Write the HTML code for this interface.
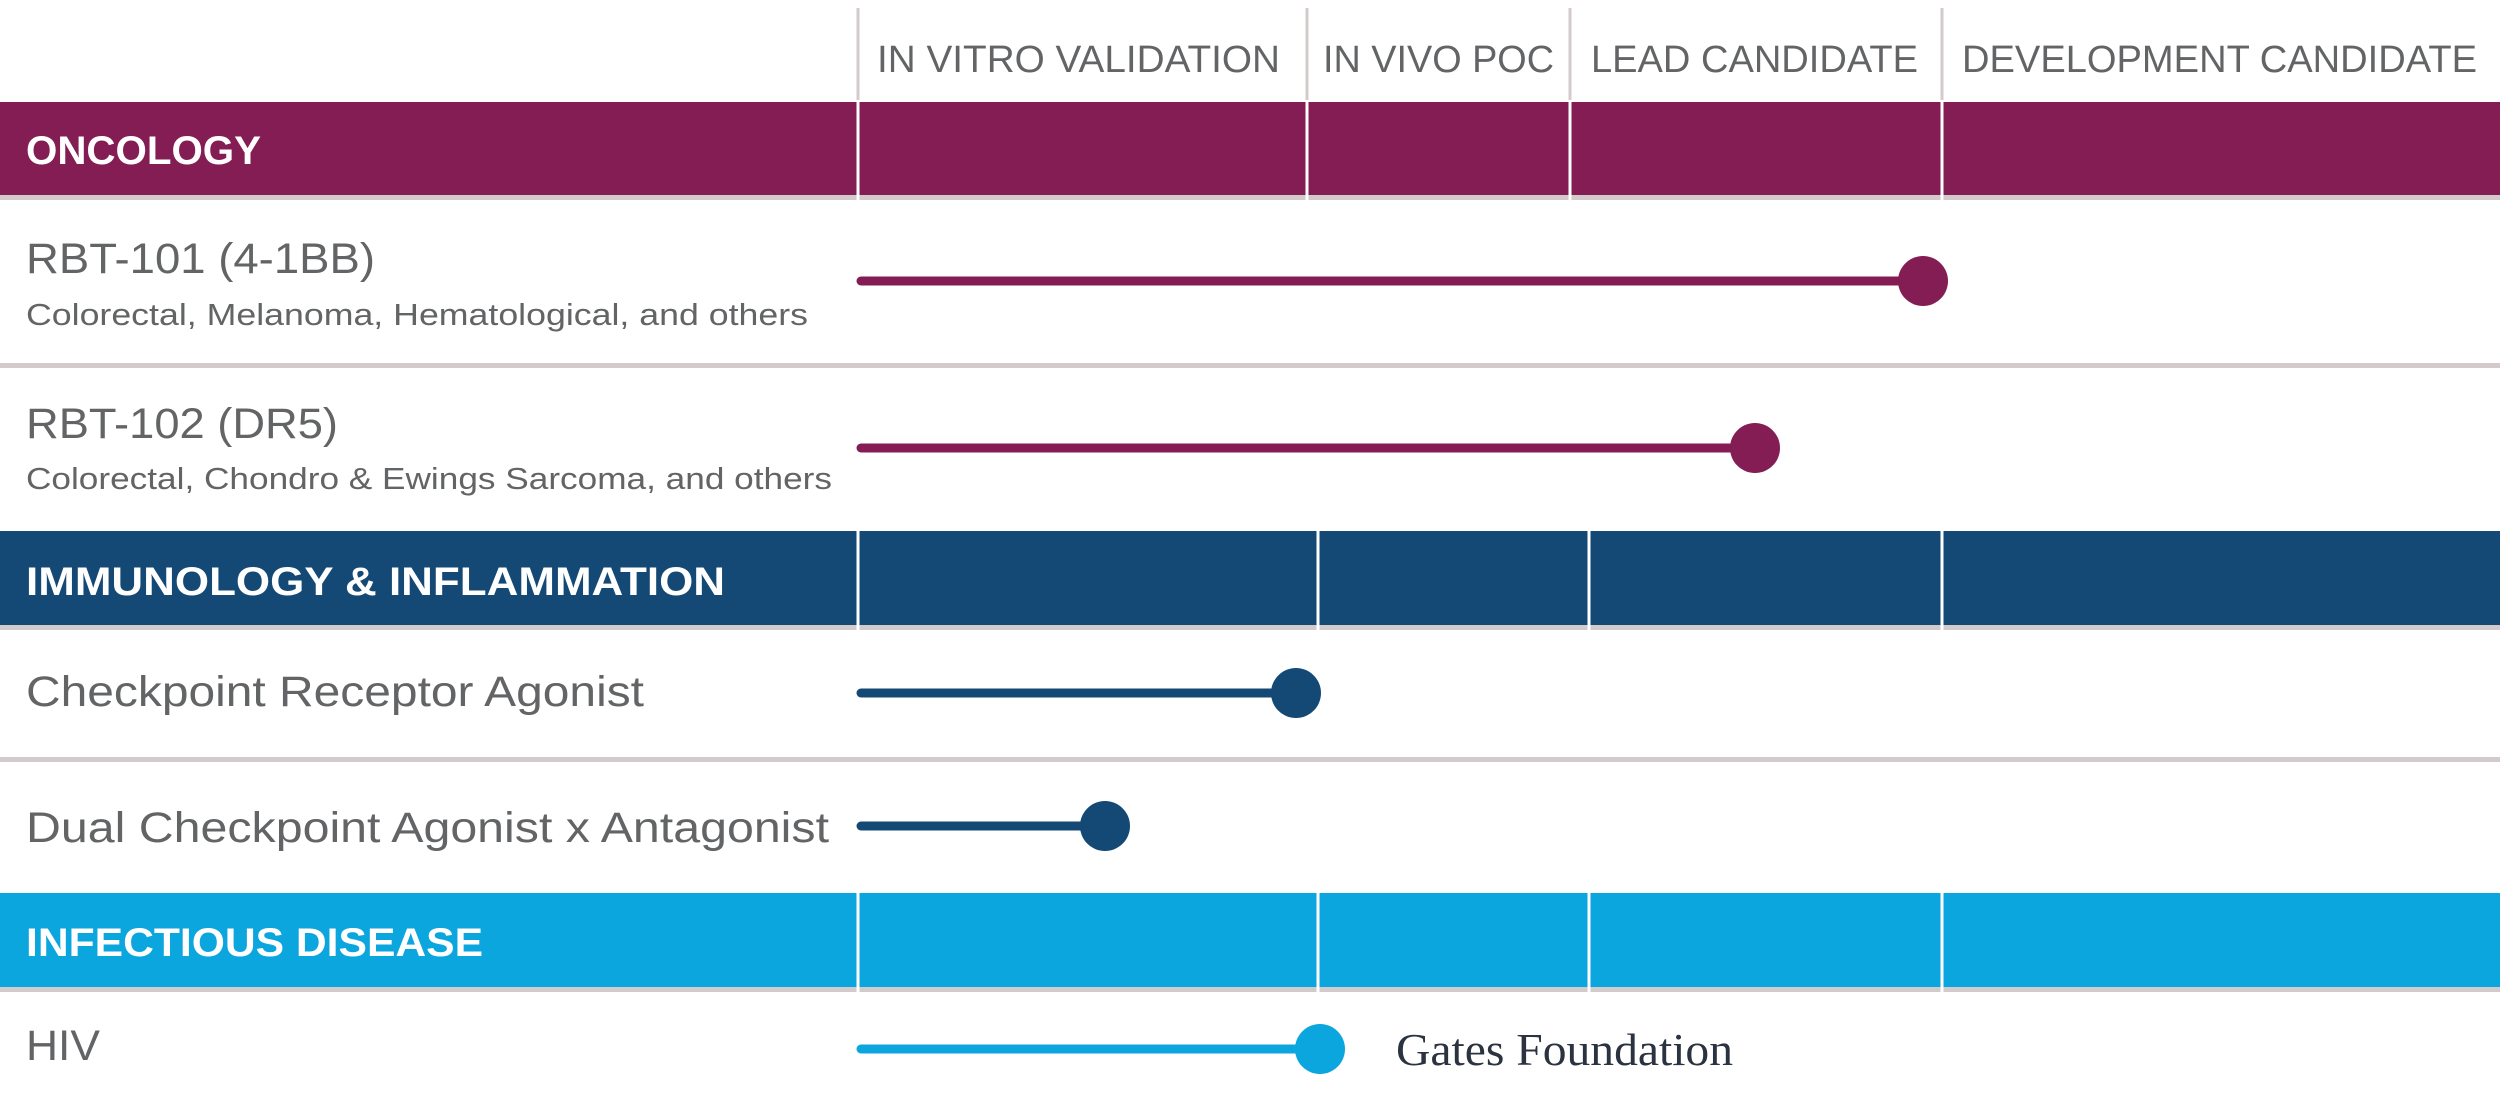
<!DOCTYPE html>
<html><head><style>html,body{margin:0;padding:0;background:#fff;overflow:hidden}svg{display:block}</style></head>
<body>
<svg width="2500" height="1111" viewBox="0 0 2500 1111" xmlns="http://www.w3.org/2000/svg" font-family="'Liberation Sans', sans-serif">
<rect width="2500" height="1111" fill="#fff"/>
<!-- header dividers -->
<g stroke="#d3cbcb" stroke-width="3">
<line x1="858" y1="8" x2="858" y2="100"/>
<line x1="1307" y1="8" x2="1307" y2="100"/>
<line x1="1570" y1="8" x2="1570" y2="100"/>
<line x1="1942" y1="8" x2="1942" y2="100"/>
</g>
<g fill="#626466" font-size="38">
<text x="877" y="72" textLength="403" lengthAdjust="spacingAndGlyphs">IN VITRO VALIDATION</text>
<text x="1323" y="72" textLength="231" lengthAdjust="spacingAndGlyphs">IN VIVO POC</text>
<text x="1591" y="72" textLength="327" lengthAdjust="spacingAndGlyphs">LEAD CANDIDATE</text>
<text x="1962" y="72" textLength="515" lengthAdjust="spacingAndGlyphs">DEVELOPMENT CANDIDATE</text>
</g>
<!-- bands -->
<rect x="0" y="102" width="2500" height="93" fill="#841D54"/>
<rect x="0" y="195" width="2500" height="5" fill="#d3cbcb"/>
<rect x="0" y="531" width="2500" height="94" fill="#144875"/>
<rect x="0" y="625" width="2500" height="5" fill="#d3cbcb"/>
<rect x="0" y="893" width="2500" height="94" fill="#0CA6DE"/>
<rect x="0" y="987" width="2500" height="5" fill="#d3cbcb"/>
<g stroke="#fff" stroke-width="3">
<line x1="858" y1="100" x2="858" y2="200"/>
<line x1="1307" y1="100" x2="1307" y2="200"/>
<line x1="1570" y1="100" x2="1570" y2="200"/>
<line x1="1942" y1="100" x2="1942" y2="200"/>
<line x1="858" y1="531" x2="858" y2="630"/>
<line x1="1318" y1="531" x2="1318" y2="630"/>
<line x1="1589" y1="531" x2="1589" y2="630"/>
<line x1="1942" y1="531" x2="1942" y2="630"/>
<line x1="858" y1="893" x2="858" y2="992"/>
<line x1="1318" y1="893" x2="1318" y2="992"/>
<line x1="1589" y1="893" x2="1589" y2="992"/>
<line x1="1942" y1="893" x2="1942" y2="992"/>
</g>
<!-- row separators -->
<rect x="0" y="363" width="2500" height="5" fill="#d3cbcb"/>
<rect x="0" y="757" width="2500" height="5" fill="#d3cbcb"/>
<g fill="#fff" font-size="40" font-weight="bold">
<text x="26" y="164" textLength="235" lengthAdjust="spacingAndGlyphs">ONCOLOGY</text>
<text x="26" y="595" textLength="699" lengthAdjust="spacingAndGlyphs">IMMUNOLOGY &amp; INFLAMMATION</text>
<text x="26" y="956" textLength="457" lengthAdjust="spacingAndGlyphs">INFECTIOUS DISEASE</text>
</g>
<g fill="#626466">
<text x="26" y="273" font-size="43" textLength="349" lengthAdjust="spacingAndGlyphs">RBT-101 (4-1BB)</text>
<text x="26" y="325" font-size="31" textLength="782" lengthAdjust="spacingAndGlyphs">Colorectal, Melanoma, Hematological, and others</text>
<text x="26" y="438" font-size="43" textLength="312" lengthAdjust="spacingAndGlyphs">RBT-102 (DR5)</text>
<text x="26" y="489" font-size="31" textLength="806" lengthAdjust="spacingAndGlyphs">Colorectal, Chondro &amp; Ewings Sarcoma, and others</text>
<text x="26" y="706" font-size="43" textLength="618" lengthAdjust="spacingAndGlyphs">Checkpoint Receptor Agonist</text>
<text x="26" y="842" font-size="43" textLength="803" lengthAdjust="spacingAndGlyphs">Dual Checkpoint Agonist x Antagonist</text>
<text x="26" y="1060" font-size="43" textLength="74" lengthAdjust="spacingAndGlyphs">HIV</text>
</g>
<!-- progress lines -->
<g stroke-width="9" stroke-linecap="round">
<line x1="861" y1="281" x2="1923" y2="281" stroke="#841D54"/>
<line x1="861" y1="448" x2="1755" y2="448" stroke="#841D54"/>
<line x1="861" y1="693" x2="1296" y2="693" stroke="#144875"/>
<line x1="861" y1="826" x2="1105" y2="826" stroke="#144875"/>
<line x1="861" y1="1049" x2="1320" y2="1049" stroke="#0CA6DE"/>
</g>
<circle cx="1923" cy="281" r="25" fill="#841D54"/>
<circle cx="1755" cy="448" r="25" fill="#841D54"/>
<circle cx="1296" cy="693" r="25" fill="#144875"/>
<circle cx="1105" cy="826" r="25" fill="#144875"/>
<circle cx="1320" cy="1049" r="25" fill="#0CA6DE"/>
<text x="1396" y="1065" font-family="'Liberation Serif', serif" font-size="46" fill="#2b3340" textLength="337" lengthAdjust="spacingAndGlyphs">Gates Foundation</text>
</svg>
</body></html>
